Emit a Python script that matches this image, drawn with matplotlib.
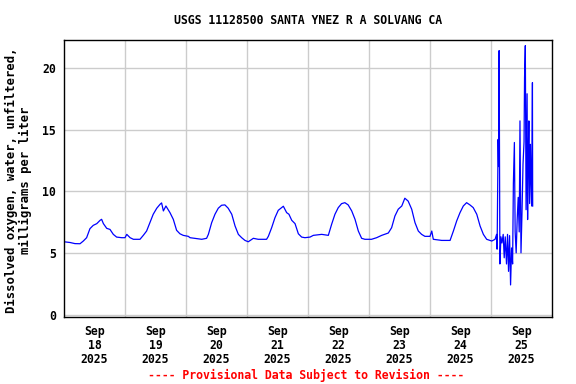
import matplotlib
matplotlib.use("Agg")
import matplotlib.pyplot as plt
from matplotlib.ticker import FixedLocator, NullFormatter, FixedFormatter

# Hours since 2025-09-18 00:00 and dissolved oxygen (mg/L)
hours = [0.0, 2.4, 4.3, 6.3, 7.6, 8.9, 10.2, 11.5, 12.9, 14.2, 14.8, 15.5, 16.8, 18.1, 19.4, 20.7, 22.7,
         24.0, 24.7, 26.0, 27.3, 29.9, 31.2, 32.5, 33.8, 35.1, 36.5, 37.8, 38.4, 39.1, 40.1, 41.7, 43.0,
         44.3, 45.6, 46.9, 48.9, 49.6, 51.5, 54.2, 56.1, 56.8, 58.1, 59.4, 60.7, 62.0, 63.3, 64.6, 66.0,
         67.3, 68.6, 69.9, 71.2, 72.5, 74.5, 76.4, 79.7, 80.4, 81.7, 83.0, 84.3, 86.3, 87.6, 88.5, 89.6,
         90.9, 92.2, 93.5, 94.8, 96.8, 98.1, 101.4, 104.0, 105.3, 106.6, 107.9, 109.2, 110.5, 111.8,
         113.2, 114.5, 115.8, 117.1, 118.4, 121.0, 123.0, 125.0, 127.6, 128.9, 130.2, 131.5, 132.9,
         134.1, 135.4, 136.8, 138.1, 139.4, 140.7, 142.0, 144.0, 144.7, 145.3, 148.6, 151.9, 153.2,
         154.5, 155.8, 157.1, 158.4, 159.7, 161.0, 162.4, 163.7, 165.0, 166.3, 168.3, 169.6,
         170.2, 170.4, 170.8, 171.0, 171.2, 171.5, 171.9, 172.3, 172.8, 173.2, 173.6, 174.1, 174.5,
         174.9, 175.3, 175.7, 176.1, 176.5, 176.8, 177.2, 177.5, 177.9, 178.3, 178.7, 179.1, 179.4,
         179.8, 180.2, 180.6, 181.0, 181.2, 181.5, 181.8, 182.2, 182.4, 182.7, 182.9, 183.2, 183.5,
         183.7, 184.0, 184.3, 184.4]
oxygen = [5.9, 5.84, 5.75, 5.74, 5.96, 6.23, 6.96, 7.23, 7.37, 7.64, 7.72, 7.37, 6.99, 6.9, 6.5, 6.28, 6.23,
          6.23, 6.5, 6.23, 6.1, 6.1, 6.42, 6.77, 7.45, 8.13, 8.62, 8.94, 9.05, 8.4, 8.8, 8.26, 7.72,
          6.83, 6.55, 6.42, 6.34, 6.23, 6.18, 6.1, 6.18, 6.5, 7.45, 8.13, 8.62, 8.86, 8.89, 8.62, 8.13,
          7.18, 6.5, 6.23, 6.01, 5.9, 6.18, 6.1, 6.1, 6.34, 7.04, 7.85, 8.45, 8.78, 8.26, 8.13, 7.64,
          7.37, 6.55, 6.28, 6.23, 6.28, 6.42, 6.5, 6.42, 7.32, 8.13, 8.67, 8.99, 9.07, 8.89,
          8.4, 7.72, 6.77, 6.18, 6.1, 6.1, 6.23, 6.42, 6.61, 7.04, 7.99, 8.54, 8.8,
          9.43, 9.2, 8.54, 7.45, 6.77, 6.5, 6.34, 6.34, 6.77, 6.1, 6.01, 6.01, 6.77,
          7.59, 8.26, 8.8, 9.07, 8.89, 8.67, 8.13, 7.18, 6.5, 6.1, 5.96, 6.1,
          6.5, 5.3, 14.2, 12.0, 21.4, 4.1, 6.3, 5.8, 6.5, 4.6, 6.3, 4.1, 6.5,
          3.5, 6.4, 2.4, 5.4, 4.1, 10.6, 13.95, 6.7, 5.0, 7.7, 9.5, 6.7, 15.7,
          5.0, 8.3, 12.2, 14.0, 19.2, 21.8, 8.5, 17.9, 7.7, 13.2, 15.7, 9.0, 13.8,
          11.4, 8.8, 18.8, 8.8]

day_labels = ["Sep\n18\n2025", "Sep\n19\n2025", "Sep\n20\n2025", "Sep\n21\n2025",
              "Sep\n22\n2025", "Sep\n23\n2025", "Sep\n24\n2025", "Sep\n25\n2025"]
y_ticks = [0, 5, 10, 15, 20]

title = "USGS 11128500 SANTA YNEZ R A SOLVANG CA"
ylabel = "Dissolved oxygen, water, unfiltered,\nmilligrams per liter"
footer = "---- Provisional Data Subject to Revision ----"

font = {"family": "DejaVu Sans Mono", "weight": "bold", "size": 8.3}
ylab_font = {"family": "DejaVu Sans Mono", "weight": "bold", "size": 8.8}
plt.rcParams["font.family"] = "DejaVu Sans Mono"
plt.rcParams["font.weight"] = "bold"

fig = plt.figure(figsize=(5.76, 3.84), dpi=100)
ax = fig.add_axes([64/576, 1-317/384, (552-64)/576, (317-39.5)/384])

ax.plot(hours, oxygen, color="#0000FF", linewidth=0.9)

ax.set_xlim(0, 192)
ax.set_ylim(-0.2, 22.3)

ax.xaxis.set_major_locator(FixedLocator([24*k for k in range(1, 8)]))
ax.xaxis.set_major_formatter(NullFormatter())
ax.xaxis.set_minor_locator(FixedLocator([12 + 24*k for k in range(8)]))
ax.xaxis.set_minor_formatter(FixedFormatter(day_labels))
ax.set_yticks(y_ticks)
ax.set_yticklabels([str(v) for v in y_ticks], fontdict=font)
for lab in ax.xaxis.get_minorticklabels():
    lab.set_fontproperties(matplotlib.font_manager.FontProperties(**font))
    lab.set_linespacing(1.1)

ax.tick_params(axis="both", which="both", length=0)
ax.tick_params(axis="y", pad=6)
ax.tick_params(axis="x", which="minor", pad=6)

ax.grid(True, which="major", color="#cccccc", linewidth=1.0)
ax.set_axisbelow(True)
for s in ax.spines.values():
    s.set_color("black")
    s.set_linewidth(1.0)

fig.text(308/576, 1-20/384, title, ha="center", va="center", fontdict=font)
fig.text(18.5/576, 1-180/384, ylabel, ha="center", va="center", rotation=90,
         fontdict=ylab_font, linespacing=1.05)
fig.text(306/576, 1-375/384, footer, ha="center", va="center", color="red", fontdict=font)

fig.savefig("out.png", dpi=100)
